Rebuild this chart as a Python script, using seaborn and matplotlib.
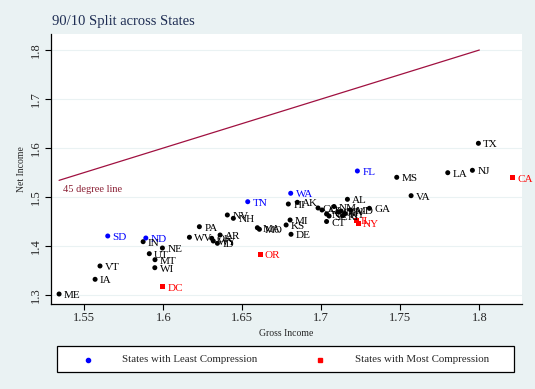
import matplotlib
matplotlib.use("Agg")
import matplotlib.pyplot as plt
import seaborn as sns
import pandas as pd
from matplotlib.lines import Line2D
from matplotlib.patches import Rectangle

states = ["ME", "IA", "VT", "SD", "ND", "IN", "NE", "UT", "MT", "WI", "DC",
          "PA", "WV", "OK", "WY", "ID", "AR", "NV", "NH", "TN", "MA", "MO",
          "OR", "WA", "HI", "AK", "MI", "KS", "DE", "CT", "CO", "AZ", "NM",
          "NC", "SC", "OH", "MN", "KY", "RI", "MD", "AL", "GA", "IL", "NY",
          "FL", "MS", "VA", "TX", "LA", "NJ", "CA"]
gross = [1.534, 1.5568, 1.5599, 1.5648, 1.5889, 1.5872, 1.5994, 1.5911, 1.5947, 1.5946, 1.5994,
         1.6228, 1.6165, 1.6306, 1.6316, 1.6342, 1.6359, 1.6405, 1.6443, 1.6534, 1.6595, 1.6608,
         1.6612, 1.6806, 1.6791, 1.6848, 1.6802, 1.6777, 1.6808, 1.7033, 1.6979, 1.7004, 1.708,
         1.7033, 1.7049, 1.7106, 1.7125, 1.715, 1.7137, 1.7185, 1.7165, 1.7304, 1.722, 1.7232,
         1.7228, 1.7477, 1.7568, 1.7994, 1.780, 1.7956, 1.8209]
net = [1.302, 1.332, 1.3592, 1.4204, 1.4163, 1.4088, 1.3959, 1.3843, 1.372, 1.3557, 1.3169,
       1.4394, 1.4178, 1.4157, 1.4102, 1.4055, 1.4224, 1.4633, 1.4565, 1.4904, 1.4373, 1.4341,
       1.3831, 1.5076, 1.4857, 1.4892, 1.4531, 1.4429, 1.4239, 1.450, 1.4776, 1.4735, 1.4806,
       1.4653, 1.4612, 1.4694, 1.4714, 1.4663, 1.4622, 1.4735, 1.4953, 1.4769, 1.4524, 1.4469,
       1.5531, 1.5402, 1.5027, 1.6096, 1.5496, 1.5545, 1.5394]
least = ["SD", "ND", "TN", "WA", "FL"]
most = ["DC", "OR", "IL", "NY", "CA"]
line_x = [1.534, 1.80]
line_y = [1.534, 1.80]
xticks = [1.55, 1.6, 1.65, 1.7, 1.75, 1.8]
xtick_labels = ["1.55", "1.6", "1.65", "1.7", "1.75", "1.8"]
yticks = [1.3, 1.4, 1.5, 1.6, 1.7, 1.8]
ytick_labels = ["1.3", "1.4", "1.5", "1.6", "1.7", "1.8"]
legend_labels = ["States with Least Compression", "States with Most Compression"]

df = pd.DataFrame({"state": states, "gross": gross, "net": net})
df["group"] = ["least" if s in least else ("most" if s in most else "other") for s in states]

sns.set_theme(style="white")
plt.rcParams["font.family"] = ["Liberation Serif", "DejaVu Serif"]

W, H = 535, 389
bg = "#EAF2F3"
fig = plt.figure(figsize=(W / 100, H / 100), dpi=100, facecolor=bg)
ax = fig.add_axes([50.7 / W, 1 - 304 / H, (521.7 - 50.7) / W, (304 - 34) / H])
ax.set_facecolor("white")

colors = {"other": "black", "least": "#0000FF", "most": "#FF0000"}
markers = {"other": "o", "least": "o", "most": "s"}

sns.lineplot(x=line_x, y=line_y, ax=ax, color="#A01040", linewidth=0.9)
for g in ["other", "least", "most"]:
    sub = df[df["group"] == g]
    sns.scatterplot(data=sub, x="gross", y="net", ax=ax, color=colors[g],
                    marker=markers[g], s=13, edgecolor="none", legend=False)
for _, r in df.iterrows():
    ax.annotate(r["state"], (r["gross"], r["net"]), xytext=(3.5, -3),
                textcoords="offset points", fontsize=8, color=colors[r["group"]])

ax.text(line_x[0] + 0.0025, line_y[0] - 0.019, "45 degree line", fontsize=7.5,
        color="#8B2035", va="center")

ax.set_xlim(1.5287, 1.8268)
ax.set_ylim(1.2816, 1.8327)
ax.set_xticks(xticks)
ax.set_xticklabels(xtick_labels, fontsize=9)
ax.set_yticks(yticks)
ax.set_yticklabels(ytick_labels, fontsize=9, rotation=90, va="center")
ax.tick_params(axis="both", which="both", length=4, width=0.8, color="black",
               left=True, bottom=True, pad=2)
ax.yaxis.grid(True, color=bg, linewidth=0.8)
ax.xaxis.grid(False)
for sp in ["top", "right"]:
    ax.spines[sp].set_visible(False)
for sp in ["left", "bottom"]:
    ax.spines[sp].set_color("black")
    ax.spines[sp].set_linewidth(0.9)
ax.set_xlabel("Gross Income", fontsize=7, labelpad=3)
ax.set_ylabel("Net Income", fontsize=7, labelpad=3)

fig.text(52 / W, 1 - 21 / H, "90/10 Split across States", fontsize=10.5,
         color="#1E2D53", va="center", ha="left")

# legend box (drawn in figure coordinates)
fig.add_artist(Rectangle((57 / W, 1 - 372 / H), (514 - 57) / W, 26 / H,
                         transform=fig.transFigure, facecolor="white",
                         edgecolor="black", linewidth=0.9))
ly = 1 - 360 / H
fig.add_artist(Line2D([88 / W], [ly], transform=fig.transFigure, linestyle="none",
                      marker="o", color="#0000FF", markersize=3))
fig.add_artist(Line2D([320 / W], [ly], transform=fig.transFigure, linestyle="none",
                      marker="s", color="#FF0000", markersize=3))
fig.text(122 / W, ly, legend_labels[0], fontsize=7.8, va="center", ha="left")
fig.text(355 / W, ly, legend_labels[1], fontsize=7.8, va="center", ha="left")

fig.savefig("out.png", dpi=100, facecolor=bg)
